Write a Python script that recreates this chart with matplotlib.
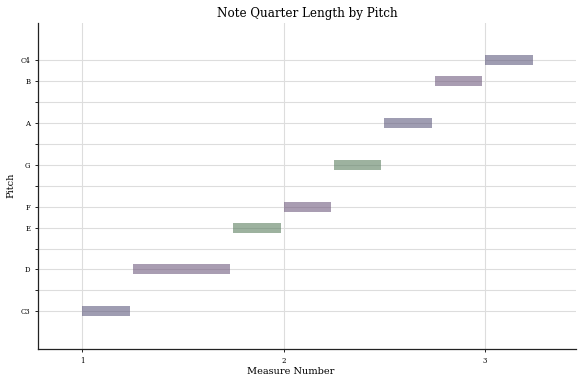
import matplotlib

matplotlib.use('Agg')

import matplotlib.pyplot as plt

# notes in order: pitch (midi), offset (quarter lengths), quarter length
pitches = [48, 50, 52, 53, 55, 57, 59, 60]
offsets = [0, 1, 3, 4, 5, 6, 7, 8]
quarter_lengths = [1, 2, 1, 1, 1, 1, 1, 1]
bar_colors = ['#605c7f', '#715c7f', '#5c7f60', '#715c7f',
              '#5c7f60', '#605c7f', '#715c7f', '#605c7f']

# y ticks and labels (every semitone, naturals labelled)
y_ticks = list(range(48, 61))
y_labels = ['C3', '', 'D', '', 'E', 'F', '', 'G', '', 'A', '', 'B', 'C4']
x_ticks = [1, 2, 3]

plt.rcParams['font.family'] = ['DejaVu Serif']

fig = plt.figure(figsize=(5.84, 3.83), dpi=100)
ax = fig.add_axes([0.065, 0.089, 0.921, 0.852])

beats_per_measure = 4
for p, off, ql, c in zip(pitches, offsets, quarter_lengths, bar_colors):
    start = 1 + off / beats_per_measure
    width = ql / beats_per_measure - 0.015
    ax.broken_barh([(start, width)], (p - 0.24, 0.48),
                   facecolor=c, alpha=0.6, linewidth=0, zorder=2)

ax.set_yticks(y_ticks)
ax.set_yticklabels(y_labels)
ax.set_xticks(x_ticks)
ax.set_xticklabels([str(x) for x in x_ticks])
ax.set_xlim(0.78, 3.45)
ax.set_ylim(46.2, 61.8)

ax.set_axisbelow(True)
ax.grid(True, color='#dddddd', linewidth=0.8)

for side in ['top', 'right']:
    ax.spines[side].set_visible(False)
for side in ['left', 'bottom']:
    ax.spines[side].set_color('#222222')
    ax.spines[side].set_linewidth(0.9)
ax.tick_params(axis='both', labelsize=5, length=2.5, width=0.7,
               color='#222222', pad=3)

ax.set_title('Note Quarter Length by Pitch', fontsize=8.6, pad=4)
ax.set_xlabel('Measure Number', fontsize=7, labelpad=3)
ax.xaxis.set_label_coords(0.47, -0.055)
ax.set_ylabel('Pitch', fontsize=7, labelpad=4)

fig.savefig('out.png', dpi=100)
plt.close(fig)
